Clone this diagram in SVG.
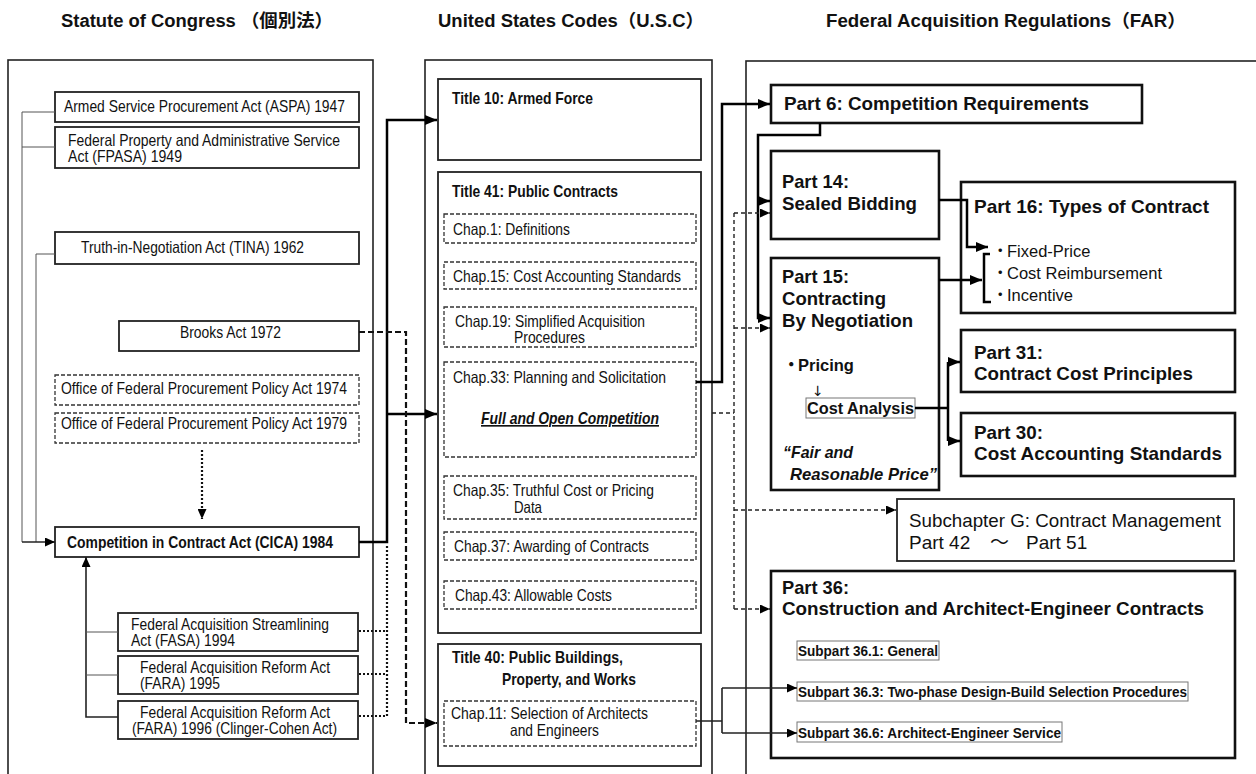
<svg xmlns="http://www.w3.org/2000/svg" width="1256" height="774" viewBox="0 0 1256 774">
<defs>
<style>
text{font-family:"Liberation Sans",Arial,"Noto Sans CJK JP",sans-serif;fill:#111}
.t{font-size:16.5px}
.b{font-weight:bold}
.h{font-size:18px;font-weight:bold}
.p{font-size:19px;font-weight:bold}
.s{font-size:16.5px}
.sb{font-size:15.5px;font-weight:bold}
.panel{fill:none;stroke:#222;stroke-width:1.6}
.box{fill:#fff;stroke:#222;stroke-width:1.8}
.dbox{fill:#fff;stroke:#333;stroke-width:1.3;stroke-dasharray:4 2}
.pbox{fill:#fff;stroke:#111;stroke-width:2.6}
.gbox{fill:#fff;stroke:#777;stroke-width:1}
.thick{fill:none;stroke:#000;stroke-width:2.5}
.med{fill:none;stroke:#222;stroke-width:1.6}
.thin{fill:none;stroke:#555;stroke-width:1}
.dot{fill:none;stroke:#111;stroke-width:2.2;stroke-dasharray:2 2}
.dash{fill:none;stroke:#111;stroke-width:2.2;stroke-dasharray:6 3}
.dashs{fill:none;stroke:#222;stroke-width:1.4;stroke-dasharray:4 3}
</style>
<marker id="ah" markerUnits="userSpaceOnUse" markerWidth="12" markerHeight="10" refX="12" refY="5" orient="auto"><path d="M0,0 L12,5 L0,10 z" fill="#000"/></marker>
<marker id="as" markerUnits="userSpaceOnUse" markerWidth="10" markerHeight="9" refX="10" refY="4.5" orient="auto"><path d="M0,0 L10,4.5 L0,9 z" fill="#000"/></marker>
</defs>
<rect width="1256" height="774" fill="#fff"/>

<g id="headers">
<text class="h" x="61" y="27" textLength="272" lengthAdjust="spacingAndGlyphs">Statute of Congress （個別法）</text>
<text class="h" x="438" y="27" textLength="266" lengthAdjust="spacingAndGlyphs">United States Codes（U.S.C）</text>
<text class="h" x="826" y="27" textLength="360" lengthAdjust="spacingAndGlyphs">Federal Acquisition Regulations（FAR）</text>
</g>

<g id="panels">
<rect class="panel" x="8" y="60" width="365" height="740"/>
<rect class="panel" x="425" y="60" width="287" height="740"/>
<rect class="panel" x="746" y="61" width="530" height="740"/>
</g>

<g id="aspa"><rect class="box" x="55" y="92" width="304" height="30"/><text class="t" x="64" y="112" textLength="281" lengthAdjust="spacingAndGlyphs">Armed Service Procurement Act (ASPA) 1947</text></g>
<g id="fpasa"><rect class="box" x="55" y="127" width="304" height="41"/><text class="t" x="68" y="146" textLength="272" lengthAdjust="spacingAndGlyphs">Federal Property and Administrative Service</text><text class="t" x="68" y="162" textLength="114" lengthAdjust="spacingAndGlyphs">Act (FPASA) 1949</text></g>
<g id="tina"><rect class="box" x="55" y="232" width="304" height="32"/><text class="t" x="81" y="253" textLength="223" lengthAdjust="spacingAndGlyphs">Truth-in-Negotiation Act (TINA) 1962</text></g>
<g id="brooks"><rect class="box" x="119" y="321" width="240" height="30"/><text class="t" x="180" y="338" textLength="101" lengthAdjust="spacingAndGlyphs">Brooks Act 1972</text></g>
<g id="ofpp74"><rect class="dbox" x="55" y="375" width="304" height="30"/><text class="t" x="61" y="394" textLength="286" lengthAdjust="spacingAndGlyphs">Office of Federal Procurement Policy Act 1974</text></g>
<g id="ofpp79"><rect class="dbox" x="55" y="413" width="304" height="30"/><text class="t" x="61" y="429" textLength="286" lengthAdjust="spacingAndGlyphs">Office of Federal Procurement Policy Act 1979</text></g>
<g id="cica"><rect class="box" x="55" y="527" width="304" height="30"/><text class="t b" x="67" y="548" textLength="266" lengthAdjust="spacingAndGlyphs">Competition in Contract Act (CICA) 1984</text></g>
<g id="fasa"><rect class="box" x="118" y="613" width="240" height="38"/><text class="t" x="131" y="630" textLength="198" lengthAdjust="spacingAndGlyphs">Federal Acquisition Streamlining</text><text class="t" x="131" y="646" textLength="104" lengthAdjust="spacingAndGlyphs">Act (FASA) 1994</text></g>
<g id="fara95"><rect class="box" x="118" y="656" width="240" height="38"/><text class="t" x="140" y="673" textLength="190" lengthAdjust="spacingAndGlyphs">Federal Acquisition Reform Act</text><text class="t" x="140" y="689" textLength="80" lengthAdjust="spacingAndGlyphs">(FARA) 1995</text></g>
<g id="fara96"><rect class="box" x="118" y="701" width="240" height="38"/><text class="t" x="140" y="718" textLength="190" lengthAdjust="spacingAndGlyphs">Federal Acquisition Reform Act</text><text class="t" x="132" y="734" textLength="205" lengthAdjust="spacingAndGlyphs">(FARA) 1996 (Clinger-Cohen Act)</text></g>

<g id="title10"><rect class="box" x="438" y="79" width="263" height="81"/><text class="t b" x="452" y="104" textLength="141" lengthAdjust="spacingAndGlyphs">Title 10: Armed Force</text></g>
<g id="title41"><rect class="box" x="438" y="172" width="263" height="461"/><text class="t b" x="452" y="197" textLength="166" lengthAdjust="spacingAndGlyphs">Title 41: Public Contracts</text></g>
<g id="chap1"><rect class="dbox" x="444" y="214" width="252" height="29"/><text class="t" x="453" y="235" textLength="117" lengthAdjust="spacingAndGlyphs">Chap.1: Definitions</text></g>
<g id="chap15"><rect class="dbox" x="444" y="262" width="252" height="27"/><text class="t" x="453" y="282" textLength="228" lengthAdjust="spacingAndGlyphs">Chap.15: Cost Accounting Standards</text></g>
<g id="chap19"><rect class="dbox" x="444" y="307" width="252" height="40"/><text class="t" x="455" y="327" textLength="190" lengthAdjust="spacingAndGlyphs">Chap.19: Simplified Acquisition</text><text class="t" x="514" y="343" textLength="71" lengthAdjust="spacingAndGlyphs">Procedures</text></g>
<g id="chap33"><rect class="dbox" x="444" y="362" width="252" height="95"/><text class="t" x="453" y="383" textLength="213" lengthAdjust="spacingAndGlyphs">Chap.33: Planning and Solicitation</text><text class="t b" x="481" y="424" font-style="italic" text-decoration="underline" textLength="178" lengthAdjust="spacingAndGlyphs">Full and Open Competition</text></g>
<g id="chap35"><rect class="dbox" x="444" y="476" width="252" height="43"/><text class="t" x="453" y="496" textLength="201" lengthAdjust="spacingAndGlyphs">Chap.35: Truthful Cost or Pricing</text><text class="t" x="514" y="513" textLength="28" lengthAdjust="spacingAndGlyphs">Data</text></g>
<g id="chap37"><rect class="dbox" x="444" y="532" width="252" height="28"/><text class="t" x="454" y="552" textLength="195" lengthAdjust="spacingAndGlyphs">Chap.37: Awarding of Contracts</text></g>
<g id="chap43"><rect class="dbox" x="444" y="581" width="252" height="28"/><text class="t" x="455" y="601" textLength="157" lengthAdjust="spacingAndGlyphs">Chap.43: Allowable Costs</text></g>
<g id="title40"><rect class="box" x="438" y="644" width="263" height="122"/><text class="t b" x="452" y="663" textLength="171" lengthAdjust="spacingAndGlyphs">Title 40: Public Buildings,</text><text class="t b" x="502" y="685" textLength="134" lengthAdjust="spacingAndGlyphs">Property, and Works</text></g>
<g id="chap11"><rect class="dbox" x="444" y="701" width="252" height="45"/><text class="t" x="451" y="719" textLength="197" lengthAdjust="spacingAndGlyphs">Chap.11: Selection of Architects</text><text class="t" x="510" y="736" textLength="89" lengthAdjust="spacingAndGlyphs">and Engineers</text></g>

<g id="part6"><rect class="pbox" x="771" y="85" width="371" height="38"/><text class="p" x="784" y="110" textLength="305" lengthAdjust="spacingAndGlyphs">Part 6: Competition Requirements</text></g>
<g id="part14"><rect class="pbox" x="771" y="151" width="168" height="88"/><text class="p" x="782" y="188" textLength="67" lengthAdjust="spacingAndGlyphs">Part 14:</text><text class="p" x="782" y="210" textLength="135" lengthAdjust="spacingAndGlyphs">Sealed Bidding</text></g>
<g id="part16"><rect class="pbox" x="961" y="182" width="274" height="131"/><text class="p" x="974" y="213" textLength="235" lengthAdjust="spacingAndGlyphs">Part 16: Types of Contract</text>
<text class="s"><tspan x="992" y="257">・</tspan><tspan x="1007" y="257">Fixed-Price</tspan></text>
<text class="s"><tspan x="992" y="279">・</tspan><tspan x="1007" y="279">Cost Reimbursement</tspan></text>
<text class="s"><tspan x="992" y="301">・</tspan><tspan x="1007" y="301">Incentive</tspan></text></g>
<g id="part15"><rect class="pbox" x="771" y="258" width="168" height="232"/><text class="p" x="782" y="283" textLength="67" lengthAdjust="spacingAndGlyphs">Part 15:</text><text class="p" x="782" y="305" textLength="104" lengthAdjust="spacingAndGlyphs">Contracting</text><text class="p" x="782" y="327" textLength="131" lengthAdjust="spacingAndGlyphs">By Negotiation</text>
<text class="s b"><tspan x="783" y="371">・</tspan><tspan x="798" y="371">Pricing</tspan></text>
<text x="812" y="396" style="font-family:'DejaVu Sans',sans-serif;font-size:14px">↓</text>
<text class="p" x="783" y="458" font-style="italic" style="font-size:17px" textLength="70" lengthAdjust="spacingAndGlyphs">“Fair and</text><text class="p" x="790" y="480" font-style="italic" style="font-size:17px" textLength="147" lengthAdjust="spacingAndGlyphs">Reasonable Price”</text></g>
<g id="costanalysis"><rect class="gbox" x="806" y="398" width="109" height="20"/><text class="s b" x="807" y="414" textLength="107" lengthAdjust="spacingAndGlyphs">Cost Analysis</text></g>
<g id="part31"><rect class="pbox" x="961" y="330" width="274" height="62"/><text class="p" x="974" y="359" textLength="69" lengthAdjust="spacingAndGlyphs">Part 31:</text><text class="p" x="974" y="380" textLength="219" lengthAdjust="spacingAndGlyphs">Contract Cost Principles</text></g>
<g id="part30"><rect class="pbox" x="961" y="413" width="274" height="63"/><text class="p" x="974" y="439" textLength="69" lengthAdjust="spacingAndGlyphs">Part 30:</text><text class="p" x="974" y="460" textLength="248" lengthAdjust="spacingAndGlyphs">Cost Accounting Standards</text></g>
<g id="subg"><rect class="box" x="897" y="499" width="337" height="62"/><text style="font-size:19px" x="909" y="527" textLength="312" lengthAdjust="spacingAndGlyphs">Subchapter G: Contract Management</text><text style="font-size:19px"><tspan x="909" y="549">Part 42</tspan><tspan x="990" y="549">～</tspan><tspan x="1026" y="549">Part 51</tspan></text></g>
<g id="part36"><rect class="pbox" x="771" y="571" width="464" height="187"/><text class="p" x="782" y="594" textLength="67" lengthAdjust="spacingAndGlyphs">Part 36:</text><text class="p" x="782" y="615" textLength="422" lengthAdjust="spacingAndGlyphs">Construction and Architect-Engineer Contracts</text></g>
<g id="sub361"><rect class="gbox" x="797" y="641" width="142" height="19"/><text class="sb" x="798" y="656" textLength="140" lengthAdjust="spacingAndGlyphs">Subpart 36.1: General</text></g>
<g id="sub363"><rect class="gbox" x="797" y="682" width="391" height="19"/><text class="sb" x="798" y="697" textLength="389" lengthAdjust="spacingAndGlyphs">Subpart 36.3: Two-phase Design-Build Selection Procedures</text></g>
<g id="sub366"><rect class="gbox" x="797" y="722" width="265" height="20"/><text class="sb" x="798" y="738" textLength="263" lengthAdjust="spacingAndGlyphs">Subpart 36.6: Architect-Engineer Service</text></g>

<g id="connectors">
<path class="thin" d="M55,112 H22 V542"/>
<path class="thin" d="M55,147 H22"/>
<path class="thin" d="M55,254 H36 V542"/>
<path class="med" d="M22,542 H55" marker-end="url(#as)"/>
<path class="med" d="M118,717 H86 V557" marker-end="url(#as)"/>
<path class="thin" d="M118,632 H86 M118,675 H86"/>
<path class="dot" d="M202,450 V519" marker-end="url(#as)"/>
<path class="thick" d="M359,542 H387 V120 H437" marker-end="url(#ah)"/>
<path class="thick" d="M387,414 H437" marker-end="url(#ah)"/>
<path class="dot" d="M359,631 H387 M359,674 H387 M359,716 H387 M387,546 V716"/>
<path class="dash" d="M359,332 H406 V723 H437" marker-end="url(#ah)"/>
<path class="thick" d="M696,382 H722 V104 H770" marker-end="url(#ah)"/>
<path class="thick" d="M820,123 V135 H758 V318 H770" marker-end="url(#ah)"/>
<path class="thick" d="M758,201 H770" marker-end="url(#ah)"/>
<path class="dashs" d="M712,413 H734 M734,213 V609"/>
<path class="dashs" d="M734,213 H770" marker-end="url(#as)"/>
<path class="dashs" d="M734,328 H770" marker-end="url(#as)"/>
<path class="dashs" d="M734,510 H896" marker-end="url(#as)"/>
<path class="dashs" d="M734,609 H770" marker-end="url(#as)"/>
<path class="med" d="M696,721 H722 M722,688 V733"/>
<path class="med" d="M722,688 H797" marker-end="url(#as)"/>
<path class="med" d="M722,733 H797" marker-end="url(#as)"/>
<path class="thick" d="M939,200 H967 V247 H988" marker-end="url(#ah)"/>
<path class="thick" d="M939,280 H982" marker-end="url(#ah)"/>
<path class="thick" d="M990,254 H984 V302 H991"/>
<path class="thick" d="M915,408 H948 M948,362 V441"/>
<path class="thick" d="M948,362 H960" marker-end="url(#ah)"/>
<path class="thick" d="M948,441 H960" marker-end="url(#ah)"/>
</g>
</svg>
